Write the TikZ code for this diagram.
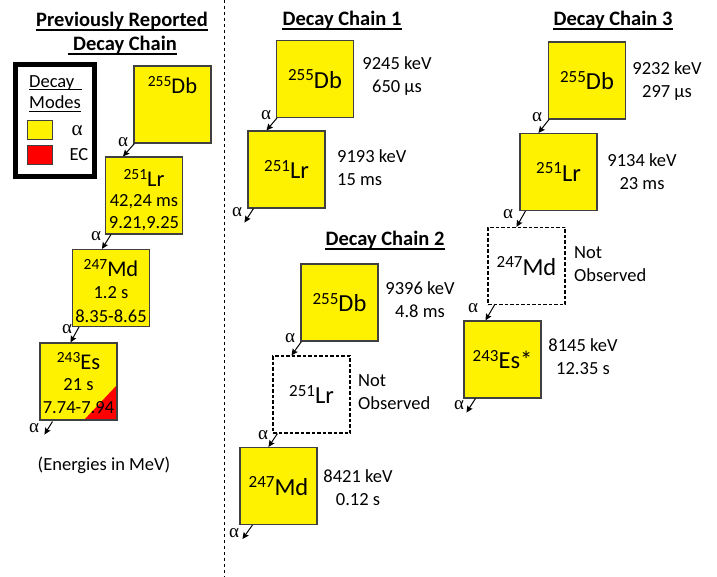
\documentclass[tikz,border=0pt]{standalone}
\usepackage{fontspec}
\setmainfont{Carlito}
\newfontfamily\grk{Liberation Serif}
\usetikzlibrary{arrows.meta,calc}
\newcommand{\iso}[3][17]{\raisebox{0.3em}{\fontsize{#1}{#1}\selectfont #2}#3}
\definecolor{bordergray}{HTML}{404040}
\tikzset{
  isobox/.style={draw=bordergray, fill=yellow, line width=1.1pt, minimum width=77pt, minimum height=77pt, inner sep=0pt},
  nobox/.style={draw=black, dash pattern=on 3.5pt off 2pt, line width=1.1pt, minimum width=77pt, minimum height=77pt, inner sep=0pt},
  big/.style={font=\fontsize{24.5}{26}\selectfont, inner sep=0pt},
  bigl/.style={font=\fontsize{22.5}{24}\selectfont, inner sep=0pt},
  txt/.style={font=\fontsize{18.5}{23}\selectfont, inner sep=0pt, align=center},
  txtl/.style={font=\fontsize{18.5}{23}\selectfont, inner sep=0pt, align=left},
  ttl/.style={font=\bfseries\fontsize{20.5}{24}\selectfont, inner sep=0pt},
  ul/.style={line width=1.4pt},
  arr/.style={-{Stealth[length=6.5pt,width=6pt,inset=1pt]}, line width=1pt},
  alp/.style={font=\grk\fontsize{19}{19}\selectfont, inner sep=0pt},
}
\begin{document}
\begin{tikzpicture}[x=1pt,y=-1pt]
\useasboundingbox (0,0) rectangle (717,577);
\fill[white] (0,0) rectangle (717,577);
% divider
\draw[line width=0.8pt, dash pattern=on 3pt off 3pt] (224,0) -- (224,577);

% ---------- Previously reported ----------
\node[ttl] (t0a) at (122,21) {Previously Reported};
\draw[ul] ($(t0a.base west)+(0,3.5)$) -- ($(t0a.base east)+(0,3.5)$);
\node[ttl] (t0b) at (125,45) {Decay Chain};
\draw[ul] ($(t0b.base west)+(-5,3.5)$) -- ($(t0b.base east)+(0,3.5)$);

% legend
\draw[line width=5pt] (15.8,64.2) rectangle (94.8,176.8);
\node[txt, anchor=base west] (lg1) at (29,87.5) {Decay};
\draw[line width=1pt] ($(lg1.base west)+(0,2)$) -- ($(lg1.base east)+(7,2)$);
\node[txt, anchor=base west] (lg2) at (29,109) {Modes};
\draw[line width=1pt] ($(lg2.base west)+(0,3)$) -- ($(lg2.base east)+(0,3)$);
\node[draw=bordergray, fill=yellow, line width=1pt, minimum width=25pt, minimum height=19pt, inner sep=0pt] (lgy) at (39.5,130.5) {};
\node[draw=bordergray, fill=red, line width=1pt, minimum width=25pt, minimum height=19pt, inner sep=0pt] (lgr) at (39.5,155) {};
\node[alp, font=\grk\fontsize{21}{21}\selectfont] (lga) at (77,131) {α};
\node[txt] (lge) at (79,155) {EC};

% chain boxes
\node[isobox] (LDb) at (172.5,104.5) {};
\node[bigl] (LDbt) at (172.5,85) {\iso[15.5]{255}{Db}};
\node[isobox] (LLr) at (144,195.5) {};
\node[bigl] (LLrt) at (144,178) {\iso[15.5]{251}{Lr}};
\node[txt] (LLr2) at (144,202) {42,24 ms};
\node[txt] (LLr3) at (144,224) {9.21,9.25};
\node[isobox] (LMd) at (111,288) {};
\node[bigl] (LMdt) at (111,268) {\iso[15.5]{247}{Md}};
\node[txt] (LMd2) at (111,293) {1.2 s};
\node[txt] (LMd3) at (111,316) {8.35-8.65};
\node[isobox, path picture={\fill[red] (path picture bounding box.south east) -- ++(0,-35) -- ($(path picture bounding box.south east)+(-33,0)$) -- cycle;}] (LEs) at (78.5,381.5) {};
\node[bigl] (LEst) at (78.5,361) {\iso[15.5]{243}{Es}};
\node[txt] (LEs2) at (78.5,385) {21 s};
\node[txt] (LEs3) at (78.5,408) {7.74-7.94};

\draw[arr] ($(LDb.south west)+(1,0)$) -- ($(LLr.north west)+(18,0)$);
\draw[arr] ($(LLr.south west)+(6,0)$) -- ($(LMd.north west)+(30,0)$);
\draw[arr] ($(LMd.south west)+(7,0)$) -- ($(LEs.north west)+(31,0)$);
\draw[arr] ($(LEs.south west)+(13,1)$) -- ++(-8,13);
\node[alp] (la1) at (123,142) {α};
\node[alp] (la2) at (96,236) {α};
\node[alp] (la3) at (67,329) {α};
\node[alp] (la4) at (34,428) {α};

\node[txt] (energ) at (104,465) {(Energies in MeV)};

% ---------- Chain 1 ----------
\node[ttl] (t1) at (342,20) {Decay Chain 1};
\draw[ul] ($(t1.base west)+(0,3.5)$) -- ($(t1.base east)+(0,3.5)$);
\node[isobox] (C1Db) at (315,79) {};
\node[big] at (C1Db) {\iso{255}{Db}};
\node[txt] (C1Dbl) at (397,76) {9245 keV\\650 µs};
\node[isobox] (C1Lr) at (286.5,169.5) {};
\node[big] at (C1Lr) {\iso{251}{Lr}};
\node[txtl, anchor=west] (C1Lrl) at (337,168) {9193 keV\\15 ms};
\draw[arr] ($(C1Db.south west)+(1,0)$) -- ($(C1Lr.north west)+(19,0)$);
\draw[arr] ($(C1Lr.south west)+(6,0)$) -- ++(-9,14);
\node[alp] (c1a1) at (266,115) {α};
\node[alp] (c1a2) at (237,212) {α};

% ---------- Chain 2 ----------
\node[ttl] (t2) at (385,240) {Decay Chain 2};
\draw[ul] ($(t2.base west)+(0,3.5)$) -- ($(t2.base east)+(0,3.5)$);
\node[isobox] (C2Db) at (339.5,302.5) {};
\node[big] at (C2Db) {\iso{255}{Db}};
\node[txt] (C2Dbl) at (420,300) {9396 keV\\4.8 ms};
\node[nobox] (C2Lr) at (311.5,394.5) {};
\node[big] at (C2Lr) {\iso{251}{Lr}};
\node[txtl, anchor=west] (C2Lrl) at (358,392) {Not\\Observed};
\node[isobox] (C2Md) at (278.5,486) {};
\node[big] at (C2Md) {\iso{247}{Md}};
\node[txt] (C2Mdl) at (358,488) {8421 keV\\0.12 s};
\draw[arr] ($(C2Db.south west)+(1,0)$) -- ($(C2Lr.north west)+(19,0)$);
\draw[arr] ($(C2Lr.south west)+(5,0)$) -- ($(C2Md.north west)+(29,0)$);
\draw[arr] ($(C2Md.south west)+(13,0)$) -- ++(-10,14);
\node[alp] (c2a1) at (290,338) {α};
\node[alp] (c2a2) at (263,435) {α};
\node[alp] (c2a3) at (234,533) {α};

% ---------- Chain 3 ----------
\node[ttl] (t3) at (613,20) {Decay Chain 3};
\draw[ul] ($(t3.base west)+(0,3.5)$) -- ($(t3.base east)+(0,3.5)$);
\node[isobox] (C3Db) at (587,80.5) {};
\node[big] at (C3Db) {\iso{255}{Db}};
\node[txt] (C3Dbl) at (667,81) {9232 keV\\297 µs};
\node[isobox] (C3Lr) at (558.5,172) {};
\node[big] at (C3Lr) {\iso{251}{Lr}};
\node[txt] (C3Lrl) at (642,172) {9134 keV\\23 ms};
\node[nobox] (C3Md) at (526.5,266) {};
\node[big] at (C3Md) {\iso{247}{Md}};
\node[txtl, anchor=west] (C3Mdl) at (574,264) {Not\\Observed};
\node[isobox] (C3Es) at (502.5,359.5) {};
\node[big] at (C3Es) {\iso{243}{Es*}};
\node[txt] (C3Esl) at (583,357) {8145 keV\\12.35 s};
\draw[arr] ($(C3Db.south west)+(1,0)$) -- ($(C3Lr.north west)+(19,0)$);
\draw[arr] ($(C3Lr.south west)+(6,0)$) -- ($(C3Md.north west)+(29,0)$);
\draw[arr] ($(C3Md.south west)+(7,0)$) -- ($(C3Es.north west)+(22,0)$);
\draw[arr] ($(C3Es.south west)+(12,0)$) -- ++(-9,14);
\node[alp] (c3a1) at (537,117) {α};
\node[alp] (c3a2) at (508,214) {α};
\node[alp] (c3a3) at (473,308) {α};
\node[alp] (c3a4) at (459,405) {α};
\end{tikzpicture}
\end{document}
